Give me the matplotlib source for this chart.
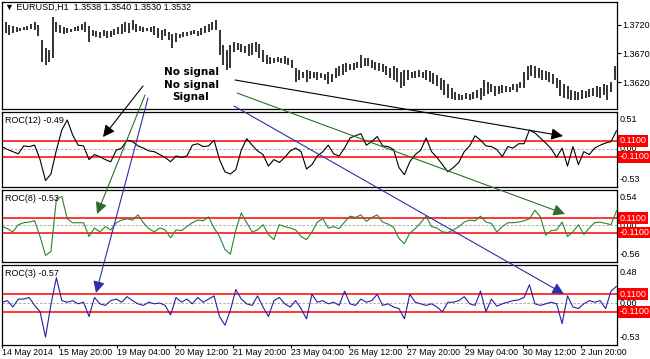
import numpy as np
import matplotlib
matplotlib.use("Agg")
import matplotlib.pyplot as plt
from matplotlib.patches import FancyArrowPatch

plt.rcParams["font.family"] = ["Liberation Sans", "DejaVu Sans"]

# ---- data ----
header = "\u25bc EURUSD,H1  1.3538 1.3540 1.3530 1.3532"

# H1 bars, one every 2 hours
bar_hi = [1.3722, 1.3725, 1.3720, 1.3718, 1.3716, 1.3715, 1.3716, 1.3718, 1.3722, 1.3725,
          1.3720, 1.3694, 1.3680, 1.3676, 1.3734, 1.3725, 1.3720, 1.3716, 1.3715, 1.3713,
          1.3716, 1.3718, 1.3722, 1.3725, 1.3718, 1.3711, 1.3709, 1.3708, 1.3711, 1.3709,
          1.3709, 1.3713, 1.3716, 1.3722, 1.3725, 1.3723, 1.3729, 1.3722, 1.3718, 1.3716,
          1.3715, 1.3716, 1.3718, 1.3715, 1.3711, 1.3713, 1.3708, 1.3704, 1.3706, 1.3704,
          1.3708, 1.3708, 1.3709, 1.3711, 1.3709, 1.3715, 1.3718, 1.3722, 1.3725, 1.3729,
          1.3711, 1.3685, 1.3676, 1.3685, 1.3690, 1.3688, 1.3687, 1.3683, 1.3687, 1.3688,
          1.3690, 1.3687, 1.3676, 1.3667, 1.3664, 1.3662, 1.3664, 1.3662, 1.3666, 1.3662,
          1.3659, 1.3645, 1.3641, 1.3638, 1.3641, 1.3639, 1.3638, 1.3638, 1.3636, 1.3634,
          1.3638, 1.3634, 1.3645, 1.3648, 1.3652, 1.3653, 1.3652, 1.3653, 1.3655, 1.3667,
          1.3662, 1.3662, 1.3659, 1.3655, 1.3653, 1.3652, 1.3648, 1.3645, 1.3648, 1.3645,
          1.3638, 1.3641, 1.3641, 1.3638, 1.3639, 1.3641, 1.3638, 1.3641, 1.3639, 1.3636,
          1.3632, 1.3627, 1.3624, 1.3616, 1.3609, 1.3602, 1.3599, 1.3597, 1.3601, 1.3599,
          1.3602, 1.3606, 1.3609, 1.3624, 1.3620, 1.3616, 1.3613, 1.3613, 1.3615, 1.3613,
          1.3611, 1.3616, 1.3616, 1.3620, 1.3638, 1.3648, 1.3650, 1.3648, 1.3645, 1.3641,
          1.3639, 1.3638, 1.3634, 1.3627, 1.3624, 1.3616, 1.3613, 1.3606, 1.3604, 1.3602,
          1.3606, 1.3604, 1.3608, 1.3609, 1.3613, 1.3611, 1.3616, 1.3615, 1.3620, 1.3648]
bar_lo = [1.3704, 1.3706, 1.3702, 1.3706, 1.3708, 1.3709, 1.3711, 1.3711, 1.3713, 1.3711,
          1.3701, 1.3655, 1.3650, 1.3655, 1.3662, 1.3708, 1.3706, 1.3704, 1.3706, 1.3708,
          1.3709, 1.3709, 1.3711, 1.3708, 1.3690, 1.3701, 1.3699, 1.3697, 1.3701, 1.3697,
          1.3699, 1.3702, 1.3704, 1.3704, 1.3708, 1.3706, 1.3711, 1.3708, 1.3709, 1.3708,
          1.3709, 1.3708, 1.3702, 1.3697, 1.3694, 1.3701, 1.3694, 1.3680, 1.3690, 1.3697,
          1.3699, 1.3701, 1.3702, 1.3704, 1.3701, 1.3702, 1.3706, 1.3708, 1.3711, 1.3711,
          1.3667, 1.3650, 1.3641, 1.3645, 1.3673, 1.3676, 1.3673, 1.3671, 1.3666, 1.3667,
          1.3673, 1.3662, 1.3655, 1.3652, 1.3652, 1.3653, 1.3655, 1.3653, 1.3652, 1.3650,
          1.3645, 1.3620, 1.3624, 1.3627, 1.3620, 1.3625, 1.3627, 1.3624, 1.3627, 1.3624,
          1.3616, 1.3620, 1.3627, 1.3631, 1.3632, 1.3638, 1.3641, 1.3641, 1.3645, 1.3645,
          1.3648, 1.3648, 1.3645, 1.3641, 1.3639, 1.3638, 1.3632, 1.3627, 1.3624, 1.3620,
          1.3609, 1.3613, 1.3624, 1.3627, 1.3627, 1.3629, 1.3627, 1.3624, 1.3620, 1.3616,
          1.3613, 1.3606, 1.3597, 1.3592, 1.3590, 1.3588, 1.3588, 1.3588, 1.3590, 1.3588,
          1.3590, 1.3592, 1.3588, 1.3595, 1.3599, 1.3602, 1.3595, 1.3599, 1.3601, 1.3602,
          1.3602, 1.3606, 1.3602, 1.3609, 1.3609, 1.3624, 1.3631, 1.3627, 1.3627, 1.3624,
          1.3624, 1.3620, 1.3616, 1.3609, 1.3595, 1.3592, 1.3590, 1.3588, 1.3588, 1.3588,
          1.3590, 1.3592, 1.3594, 1.3595, 1.3594, 1.3592, 1.3597, 1.3588, 1.3602, 1.3624]
price_ticks = [1.3720, 1.3670, 1.3620]

# ROC values, one every 3 hours
roc12 = [0.03, -0.01, -0.04, -0.07, 0.04, 0.03, 0.05, -0.15, -0.44, -0.35,
         -0.02, 0.26, 0.40, 0.19, 0.05, 0.04, -0.15, -0.08, -0.11, -0.15,
         -0.18, -0.02, 0.01, 0.12, 0.10, 0.04, 0.01, -0.03, -0.04, -0.08,
         -0.12, -0.18, -0.10, -0.12, -0.10, 0.05, 0.07, 0.03, 0.04, 0.12,
         -0.15, -0.32, -0.35, -0.29, -0.02, 0.14, 0.05, -0.03, -0.08, -0.24,
         -0.15, -0.19, -0.12, -0.03, 0.01, -0.04, -0.28, -0.22, -0.10, -0.04,
         0.05, -0.07, -0.10, 0.01, 0.15, 0.18, 0.21, 0.05, 0.10, 0.17,
         0.04, 0.03, -0.01, -0.26, -0.36, -0.18, -0.08, -0.02, 0.15, -0.04,
         -0.12, -0.22, -0.32, -0.26, -0.19, -0.04, 0.04, 0.18, 0.12, 0.04,
         0.03, -0.01, -0.11, 0.03, 0.01, 0.07, 0.07, 0.26, 0.22, 0.15,
         0.08, 0.00, -0.12, 0.01, -0.24, 0.03, -0.22, -0.04, -0.08, 0.01,
         0.05, 0.08, 0.10, 0.25]
roc8 = [-0.02, -0.05, -0.10, 0.01, 0.04, 0.05, 0.07, -0.17, -0.46, -0.40,
        0.40, 0.44, 0.10, 0.04, 0.04, 0.04, -0.17, -0.04, -0.10, -0.02,
        -0.07, 0.04, 0.08, 0.10, 0.08, 0.16, 0.04, -0.05, -0.10, -0.04,
        -0.07, -0.19, -0.07, -0.08, -0.02, 0.04, 0.08, 0.07, 0.13, -0.04,
        -0.17, -0.37, -0.44, -0.07, 0.19, 0.04, -0.10, -0.07, 0.01, -0.14,
        -0.22, 0.01, -0.02, -0.04, -0.07, -0.17, -0.22, -0.10, 0.05, 0.10,
        -0.04, -0.02, -0.05, 0.05, 0.14, 0.12, 0.16, 0.06, 0.12, 0.16,
        0.05, 0.02, -0.03, -0.20, -0.28, -0.12, -0.05, 0.04, 0.14, -0.02,
        -0.04, -0.10, -0.11, -0.07, -0.02, 0.05, 0.08, 0.07, 0.14, 0.05,
        0.03, -0.10, -0.02, 0.04, 0.04, 0.05, 0.07, 0.10, 0.23, 0.13,
        -0.15, -0.08, -0.07, 0.05, -0.17, -0.10, 0.01, -0.14, -0.04, 0.04,
        0.05, 0.03, 0.01, 0.22]
roc3 = [0.01, 0.03, -0.05, 0.05, 0.05, 0.07, -0.03, -0.11, -0.43, -0.02,
        0.32, 0.03, 0.01, 0.03, -0.01, 0.01, -0.17, 0.07, -0.01, -0.03,
        0.03, 0.05, 0.01, 0.08, 0.03, -0.01, -0.03, 0.01, -0.01, 0.00,
        -0.03, -0.15, 0.07, 0.01, 0.05, -0.01, 0.07, 0.01, 0.05, 0.09,
        -0.17, -0.28, -0.09, 0.17, 0.05, -0.01, -0.03, 0.09, -0.05, -0.17,
        0.03, 0.07, -0.01, -0.05, 0.03, -0.07, -0.20, 0.11, 0.01, 0.03,
        -0.01, 0.01, -0.03, 0.15, -0.01, -0.03, 0.05, 0.01, 0.03, 0.11,
        -0.03, -0.01, -0.05, -0.07, -0.20, 0.11, 0.01, -0.01, -0.03, -0.01,
        -0.05, -0.11, 0.01, 0.01, 0.03, 0.08, -0.01, -0.03, 0.15, -0.11,
        0.05, -0.04, -0.01, 0.01, 0.03, 0.04, 0.07, 0.23, -0.01, -0.03,
        -0.01, 0.01, -0.01, -0.26, 0.09, -0.05, -0.07, -0.01, 0.03, 0.01,
        0.03, -0.07, 0.15, 0.21]
level = 0.11

roc_names = ["ROC(12) -0.49", "ROC(8) -0.53", "ROC(3) -0.57"]
roc_top = ["0.51", "0.54", "0.48"]
roc_bot = ["-0.53", "-0.56", "-0.53"]
roc_lims = [(-0.53, 0.51), (-0.56, 0.54), (-0.53, 0.48)]

time_labels = ["14 May 2014", "15 May 20:00", "19 May 04:00", "20 May 12:00",
               "21 May 20:00", "23 May 04:00", "26 May 12:00", "27 May 20:00",
               "29 May 04:00", "30 May 12:00", "2 Jun 20:00"]
time_pos = [0, 31.5, 63.5, 95.5, 127.5, 159.5, 191.5, 223.5, 255.5, 287.5, 319.5]

notes = ["No signal", "No signal", "Signal"]

GREEN = "#2a862a"
BLUE = "#22229e"

# ---- layout helpers ----
W, H = 650, 359


def fpos(x, y):
    return (x / W, 1 - y / H)


fig = plt.figure(figsize=(6.5, 3.59), dpi=100)


def panel(top, bottom):
    ax = fig.add_axes([2 / W, 1 - bottom / H, 615 / W, (bottom - top) / H])
    ax.set_xlim(0, 339.3)
    ax.set_xticks([])
    for s in ax.spines.values():
        s.set_linewidth(0.9)
        s.set_color("black")
    return ax


ax_p = panel(2, 109)
ax12 = panel(112, 187)
ax8 = panel(190, 262)
ax3 = panel(265, 345)

# price bars
bx = np.arange(len(bar_hi)) * 2
ax_p.vlines(bx, bar_lo, bar_hi, color="#1a1a1a", lw=1.25)
ax_p.set_ylim(1.3573, 1.3760)
ax_p.yaxis.tick_right()
ax_p.set_yticks(price_ticks)
ax_p.set_yticklabels([f"{v:.4f}" for v in price_ticks])
ax_p.tick_params(axis="y", direction="out", length=3, width=0.8, labelsize=6.5, pad=1)
ax_p.text(0.005, 0.955, header, transform=ax_p.transAxes, fontsize=6.5, va="center")

# ROC panels
rx = np.arange(len(roc12)) * 3
for ax, vals, col, name, tl, bl, lim in zip(
        [ax12, ax8, ax3], [roc12, roc8, roc3], ["black", GREEN, BLUE],
        roc_names, roc_top, roc_bot, roc_lims):
    ax.axhline(0, color="#a0a0a0", lw=0.6, ls=(0, (3, 2)))
    ax.axhline(level, color="red", lw=1.1)
    ax.axhline(-level, color="red", lw=1.1)
    ax.plot(rx, vals, color=col, lw=0.8)
    ax.set_ylim(*lim)
    ax.set_yticks([])
    ax.annotate(name, xy=(0, 1), xycoords="axes fraction", xytext=(2, -3),
                textcoords="offset points", fontsize=6.5, va="top", ha="left")
    kw = dict(textcoords="offset points", fontsize=6.5, ha="left", annotation_clip=False)
    ax.annotate(tl, xy=(1, 1), xycoords="axes fraction", xytext=(2, -2), va="top", **kw)
    ax.annotate(bl, xy=(1, 0), xycoords="axes fraction", xytext=(2, 2), va="bottom", **kw)
    ax.annotate("0.00", xy=(1, 0), xycoords=("axes fraction", "data"), xytext=(2, 0),
                va="center", zorder=3, **kw)
    for lv in (level, -level):
        ax.annotate(f"{lv:.4f}", xy=(1, lv), xycoords=("axes fraction", "data"),
                    xytext=(1.8, 0), va="center", color="white", zorder=4,
                    bbox=dict(boxstyle="square,pad=0.15", fc="red", ec="none"), **kw)

# time axis
ax3.set_xticks(time_pos)
ax3.set_xticklabels(time_labels)
ax3.tick_params(axis="x", direction="out", length=2.5, width=0.8, labelsize=6.3, pad=0)
for lbl in ax3.get_xticklabels():
    lbl.set_horizontalalignment("left")

# annotations
for i, t in enumerate(notes):
    fig.text(*fpos(191, 72 + 12.5 * i), t, ha="center", va="center",
             fontsize=7.5, fontweight="bold", family="DejaVu Sans")

arrows = [((143, 86), (103, 137), "black"),
          ((145, 95), (97, 214), "#2d6e2d"),
          ((148, 98), (96, 293), "#2e2ea8"),
          ((235, 80), (563, 136), "black"),
          ((237, 93), (565, 214), "#2d6e2d"),
          ((234, 106), (564, 294), "#2e2ea8")]
for a, b, c in arrows:
    fig.add_artist(FancyArrowPatch(fpos(*a), fpos(*b), transform=fig.transFigure,
                                   arrowstyle="-|>,head_length=0.7,head_width=0.35",
                                   mutation_scale=10, color=c, lw=0.8,
                                   shrinkA=0, shrinkB=0))

fig.savefig("out.png", dpi=100)
